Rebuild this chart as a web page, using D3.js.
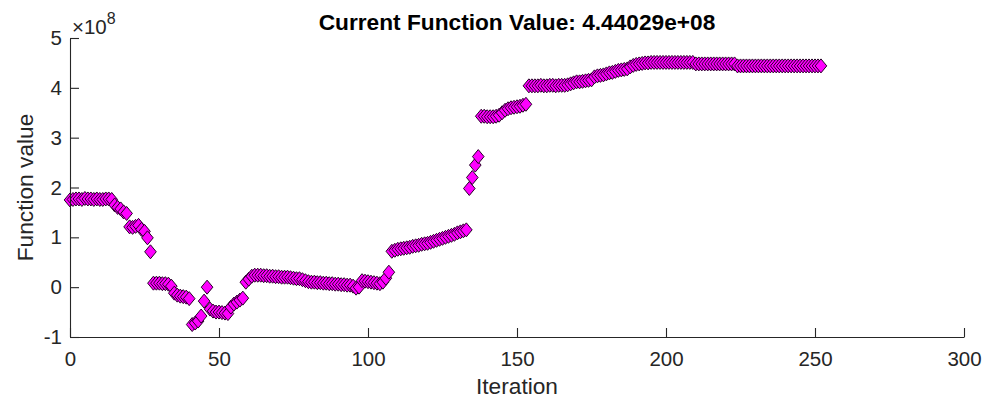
<!DOCTYPE html>
<html>
<head>
<meta charset="utf-8">
<script src="https://cdn.jsdelivr.net/npm/d3@7"></script>
<style>
  html, body { margin: 0; padding: 0; background: #ffffff; }
  svg { display: block; font-family: "Liberation Sans", Arial, Helvetica, sans-serif; }
</style>
</head>
<body>
<svg id="chart" width="985" height="399"></svg>
<script>
// ---- data (function value in units of 1e8, one entry per iteration 0..252) ----
const titleText = "Current Function Value: 4.44029e+08";
const xLabel = "Iteration";
const yLabel = "Function value";
const yExponent = "8";
const xTicks = [0, 50, 100, 150, 200, 250, 300];
const yTicks = [-1, 0, 1, 2, 3, 4, 5];
const fvals = [
  1.75, 1.76, 1.77, 1.77, 1.76, 1.78, 1.77, 1.77, 1.76, 1.77, 1.76, 1.76, 1.77, 1.77,
  1.76, 1.65, 1.60, 1.57, 1.51, 1.48, 1.21, 1.20, 1.22, 1.24, 1.16, 1.12, 0.99, 0.71,
  0.08, 0.08, 0.08, 0.07, 0.07, 0.06,
  0.02,
  -0.12, -0.16, -0.18, -0.19, -0.20, -0.23,
  -0.75, -0.72, -0.68, -0.58,
  -0.28, 0.00,
  -0.44, -0.48, -0.50, -0.50, -0.51, -0.52, -0.53,
  -0.40, -0.34, -0.30, -0.26, -0.22,
  0.10, 0.16, 0.22, 0.24,
  0.24, 0.24, 0.23, 0.23, 0.22, 0.22, 0.21, 0.21, 0.20, 0.20,
  0.20, 0.19, 0.18, 0.17, 0.17, 0.15, 0.13, 0.11, 0.10, 0.10,
  0.09, 0.09, 0.08, 0.08, 0.07, 0.07, 0.06, 0.06, 0.05, 0.05,
  0.04, 0.04, 0.02, -0.02, 0.00,
  0.13, 0.12, 0.11, 0.10, 0.09, 0.08, 0.07, 0.10, 0.18, 0.30,
  0.72, 0.74, 0.76, 0.77, 0.78, 0.79, 0.80, 0.82, 0.83, 0.84,
  0.86, 0.87, 0.88, 0.90, 0.92, 0.94, 0.96, 0.98, 1.00, 1.02,
  1.04, 1.06, 1.09, 1.11, 1.13, 1.15,
  1.98, 2.20, 2.45, 2.62,
  3.43, 3.43, 3.42, 3.42, 3.42, 3.43, 3.45, 3.50, 3.55, 3.58, 3.60, 3.61, 3.62, 3.63, 3.65, 3.67,
  4.04, 4.04, 4.04, 4.04, 4.05, 4.04, 4.04, 4.05, 4.05, 4.04, 4.05, 4.05, 4.05, 4.06,
  4.08, 4.10, 4.12, 4.12, 4.13, 4.14, 4.15, 4.16,
  4.22, 4.24, 4.25, 4.26, 4.28, 4.30, 4.31, 4.33, 4.35, 4.36, 4.37, 4.38,
  4.42, 4.45, 4.47, 4.48, 4.49, 4.50, 4.50,
  4.51, 4.51, 4.51, 4.51, 4.51, 4.51, 4.51, 4.51, 4.51, 4.51, 4.51, 4.51, 4.51, 4.51, 4.51,
  4.48, 4.48, 4.48, 4.48, 4.48, 4.48, 4.48, 4.48, 4.48, 4.48, 4.48, 4.48, 4.48, 4.48,
  4.44, 4.44, 4.44, 4.44, 4.44, 4.44, 4.44, 4.44, 4.44, 4.44,
  4.44, 4.44, 4.44, 4.44, 4.44, 4.44, 4.44, 4.44, 4.44, 4.44,
  4.44, 4.44, 4.44, 4.44, 4.44, 4.44, 4.44, 4.44, 4.44029
];

// ---- layout ----
const svg = d3.select("#chart");
const plotL = 70, plotR = 964, plotT = 38, plotB = 337;
const axisColor = "#262626";
const tickFont = 20.5, labelFont = 22.7;

const x = d3.scaleLinear().domain([0, 300]).range([plotL, plotR]);
const y = d3.scaleLinear().domain([-1, 5]).range([plotB, plotT]);

// markers (drawn first-to-last so later iterations sit on top)
const hw = 5.8, hh = 7.0;
const diamond = `M0,${-hh}L${hw},0L0,${hh}L${-hw},0Z`;
svg.append("g")
  .selectAll("path")
  .data(fvals)
  .join("path")
  .attr("d", diamond)
  .attr("transform", (d, i) => `translate(${x(i)},${y(d)})`)
  .attr("fill", "#ff00ff")
  .attr("stroke", "#260026")
  .attr("stroke-width", 1.0);

// axes
const xAxis = d3.axisBottom(x).tickValues(xTicks).tickFormat(d3.format("d"))
  .tickSizeInner(-9).tickSizeOuter(0).tickPadding(14.4);
const yAxis = d3.axisLeft(y).tickValues(yTicks).tickFormat(d => String(d))
  .tickSizeInner(-9).tickSizeOuter(0).tickPadding(8);

const gx = svg.append("g").attr("transform", `translate(0,${plotB})`).call(xAxis);
const gy = svg.append("g").attr("transform", `translate(${plotL},0)`).call(yAxis);

[gx, gy].forEach(g => {
  g.select(".domain").attr("stroke", axisColor).attr("stroke-width", 1.1);
  g.selectAll(".tick line").attr("stroke", axisColor).attr("stroke-width", 1.1);
  g.selectAll(".tick text")
    .attr("fill", axisColor)
    .attr("font-size", tickFont)
    .attr("font-family", "'Liberation Sans', Arial, Helvetica, sans-serif");
});

// exponent label (×10^8)
const expo = svg.append("text")
  .attr("x", 72).attr("y", 34)
  .attr("fill", axisColor)
  .attr("font-size", tickFont);
expo.append("tspan").text("\u00d710");
expo.append("tspan").attr("dy", -10).attr("font-size", 16).text(yExponent);

// axis labels
svg.append("text")
  .attr("x", (plotL + plotR) / 2).attr("y", 394)
  .attr("text-anchor", "middle")
  .attr("fill", axisColor)
  .attr("font-size", labelFont)
  .text(xLabel);

svg.append("text")
  .attr("transform", `translate(32.5,${(plotT + plotB) / 2}) rotate(-90)`)
  .attr("text-anchor", "middle")
  .attr("fill", axisColor)
  .attr("font-size", labelFont)
  .text(yLabel);

// title
svg.append("text")
  .attr("x", (plotL + plotR) / 2).attr("y", 29.5)
  .attr("text-anchor", "middle")
  .attr("fill", "#000000")
  .attr("font-weight", "bold")
  .attr("font-size", labelFont)
  .text(titleText);
</script>
</body>
</html>
